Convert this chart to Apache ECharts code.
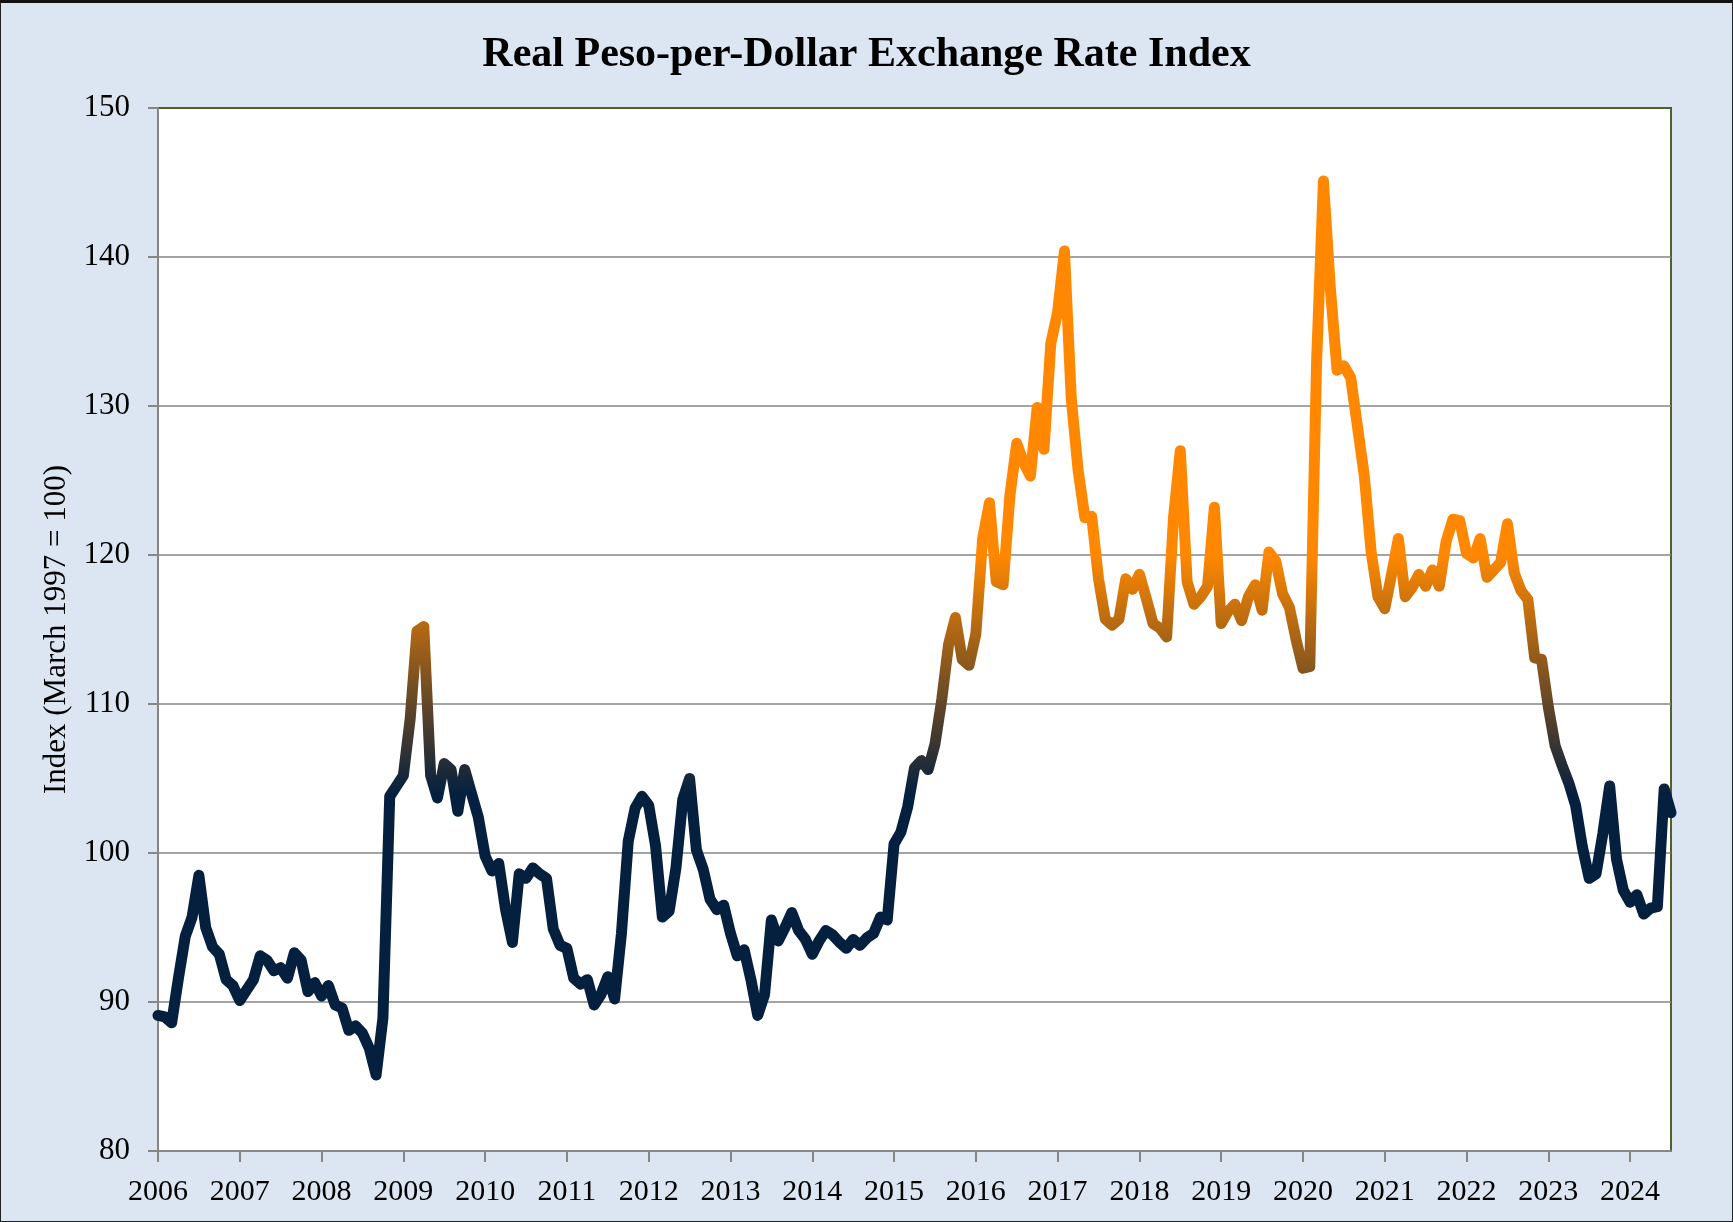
<!DOCTYPE html>
<html>
<head>
<meta charset="utf-8">
<title>Real Peso-per-Dollar Exchange Rate Index</title>
<script src="https://cdn.jsdelivr.net/npm/echarts@6/dist/echarts.min.js"></script>
<style>
  html, body { margin: 0; padding: 0; background: #dce6f2; }
  #main { width: 1733px; height: 1222px; }
  #frame { position: absolute; left: 0; top: 0; width: 1733px; height: 1222px;
           box-sizing: border-box; border: 1px solid #222; border-top: 3px solid #111;
           pointer-events: none; }
</style>
</head>
<body>
<div id="main"></div>
<div id="frame"></div>
<script>
// monthly index values, Jan to Dec of each year (2024 runs to July)
var v2006 = [89.1, 89.0, 88.6, 91.6, 94.4, 95.7, 98.5, 95.0, 93.7, 93.2, 91.5, 91.1];
var v2007 = [90.1, 90.8, 91.5, 93.1, 92.8, 92.1, 92.3, 91.6, 93.3, 92.8, 90.7, 91.3];
var v2008 = [90.4, 91.1, 89.8, 89.6, 88.1, 88.4, 87.9, 86.9, 85.1, 88.9, 103.8, 104.5];
var v2009 = [105.2, 109.0, 114.9, 115.2, 105.2, 103.7, 106.0, 105.6, 102.8, 105.6, 104.0, 102.4];
var v2010 = [99.8, 98.8, 99.3, 96.2, 94.0, 98.6, 98.3, 99.0, 98.6, 98.3, 94.9, 93.8];
var v2011 = [93.6, 91.6, 91.2, 91.5, 89.8, 90.5, 91.7, 90.2, 94.6, 100.8, 103.0, 103.8];
var v2012 = [103.2, 100.5, 95.7, 96.1, 99.0, 103.6, 105.0, 100.2, 98.9, 96.9, 96.2, 96.5];
var v2013 = [94.6, 93.1, 93.5, 91.5, 89.1, 90.5, 95.5, 94.1, 95.0, 96.0, 94.8, 94.2];
var v2014 = [93.2, 94.1, 94.8, 94.5, 94.0, 93.6, 94.2, 93.8, 94.3, 94.6, 95.7, 95.5];
var v2015 = [100.6, 101.4, 103.1, 105.7, 106.2, 105.6, 107.3, 110.3, 114.0, 115.8, 113.0, 112.6];
var v2016 = [114.7, 121.1, 123.5, 118.2, 118.0, 124.0, 127.5, 126.2, 125.3, 129.9, 127.1, 134.2];
var v2017 = [136.3, 140.4, 130.5, 125.7, 122.5, 122.6, 118.4, 115.7, 115.3, 115.7, 118.4, 117.7];
var v2018 = [118.7, 117.1, 115.4, 115.1, 114.5, 122.5, 127.0, 118.2, 116.7, 117.2, 117.9, 123.2];
var v2019 = [115.4, 116.2, 116.7, 115.6, 117.2, 118.0, 116.3, 120.2, 119.6, 117.4, 116.5, 114.3];
var v2020 = [112.4, 112.5, 133.0, 145.1, 138.0, 132.4, 132.7, 131.9, 128.6, 125.3, 120.2, 117.2];
var v2021 = [116.4, 118.7, 121.1, 117.2, 117.8, 118.7, 117.9, 119.0, 117.9, 120.9, 122.4, 122.3];
var v2022 = [120.1, 119.8, 121.1, 118.5, 119.0, 119.5, 122.1, 118.8, 117.6, 117.0, 113.1, 113.0];
var v2023 = [109.8, 107.2, 105.9, 104.7, 103.2, 100.4, 98.3, 98.6, 101.3, 104.5, 99.6, 97.5];
var v2024 = [96.7, 97.2, 95.9, 96.3, 96.4, 104.3, 102.7];

var years = [v2006, v2007, v2008, v2009, v2010, v2011, v2012, v2013, v2014, v2015,
             v2016, v2017, v2018, v2019, v2020, v2021, v2022, v2023, v2024];

var months = [];
var values = [];
years.forEach(function (arr, k) {
    arr.forEach(function (v, m) {
        months.push((2006 + k) + '-' + (m < 9 ? '0' : '') + (m + 1));
        values.push(v);
    });
});

var serif = "'Times New Roman', 'Liberation Serif', serif";
var isJan = function (idx, val) { return /-01$/.test(val); };

var myChart = echarts.init(document.getElementById('main'));

var option = {
    backgroundColor: '#dce6f2',
    animation: false,
    title: {
        text: 'Real Peso-per-Dollar Exchange Rate Index',
        left: 'center',
        top: 29,
        textStyle: { fontFamily: serif, fontSize: 42, fontWeight: 'bold', color: '#000' }
    },
    grid: {
        left: 158,
        right: 62,
        top: 108,
        bottom: 71,
        show: true,
        backgroundColor: '#ffffff',
        borderColor: '#4f6228',
        borderWidth: 2
    },
    visualMap: {
        show: false,
        type: 'continuous',
        dimension: 1,
        min: 104,
        max: 120,
        inRange: { color: ['#05203f', '#ff8800'] }
    },
    xAxis: {
        type: 'category',
        boundaryGap: false,
        data: months,
        axisLine: { lineStyle: { color: '#868686', width: 2 } },
        axisTick: { show: true, interval: isJan, length: 11, lineStyle: { color: '#868686', width: 2 } },
        axisLabel: {
            interval: isJan,
            margin: 26,
            fontFamily: serif,
            fontSize: 30,
            color: '#000',
            formatter: function (val) { return val.slice(0, 4); }
        },
        splitLine: { show: false }
    },
    yAxis: {
        type: 'value',
        min: 80,
        max: 150,
        interval: 10,
        name: 'Index (March 1997 = 100)',
        nameLocation: 'middle',
        nameRotate: 90,
        nameGap: 83,
        nameTextStyle: { fontFamily: serif, fontSize: 31, color: '#000' },
        axisLine: { show: true, lineStyle: { color: '#868686', width: 2 } },
        axisTick: { show: true, length: 10, lineStyle: { color: '#868686', width: 2 } },
        axisLabel: { margin: 28, fontFamily: serif, fontSize: 31, color: '#000' },
        splitLine: { showMinLine: false, showMaxLine: false, lineStyle: { color: '#868686', width: 1.5 } }
    },
    series: [
        {
            name: 'Index',
            type: 'line',
            data: values,
            symbol: 'none',
            smooth: false,
            lineStyle: { width: 11, cap: 'round', join: 'round' }
        }
    ]
};

myChart.setOption(option);
</script>
</body>
</html>
